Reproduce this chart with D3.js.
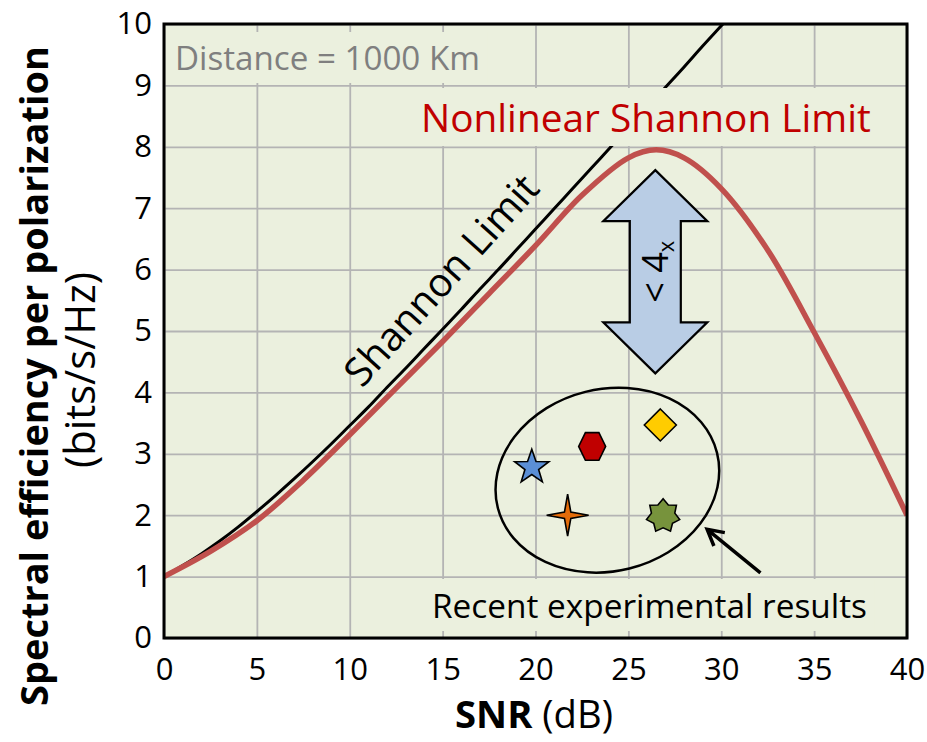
<!DOCTYPE html>
<html lang="en">
<head>
<meta charset="utf-8">
<title>Nonlinear Shannon Limit</title>
<script src="https://d3js.org/d3.v7.min.js"></script>
<style>
body { margin: 0; background: #fff; }
svg text { font-family: "Open Sans", sans-serif; }
</style>
</head>
<body>
<script>
// tick labels
const snrTicks = [0, 5, 10, 15, 20, 25, 30, 35, 40];
const seTicks = [0, 1, 2, 3, 4, 5, 6, 7, 8, 9, 10];

// Shannon limit
const shannonSNR = [0, 1, 2, 3, 4, 5, 6, 7, 8, 9, 10, 11, 12, 13, 14, 15, 16, 17, 18, 19, 20,
                    21, 22, 23, 24, 25, 26, 27, 28, 29, 30, 31];
const shannonSE = [1.00, 1.18, 1.37, 1.58, 1.81, 2.06, 2.32, 2.59, 2.87, 3.16, 3.46, 3.76, 4.08,
                   4.39, 4.71, 5.03, 5.35, 5.68, 6.00, 6.33, 6.66, 6.99, 7.32, 7.65, 7.98, 8.31,
                   8.64, 8.97, 9.30, 9.64, 9.97, 10.30];

// nonlinear Shannon limit (red curve)
const nlSNR = [0, 2.5, 5, 7.5, 10, 12.5, 15, 17.5, 20, 22.5, 25, 26.5, 28, 30, 32.5, 35, 37.5, 40];
const nlSE = [1.00, 1.41, 1.91, 2.57, 3.31, 4.07, 4.83, 5.61, 6.39, 7.21, 7.82, 7.95, 7.82, 7.32,
              6.32, 4.98, 3.55, 2.00];

// recent experimental results
const expSNR = [19.8, 23.05, 26.72, 21.73, 26.87];
const expSE = [2.78, 3.12, 3.47, 2.00, 1.99];
const expShape = ["star5", "hexagon", "diamond", "star4", "star7"];
const expColor = ["#5b8fd6", "#c00000", "#ffcc00", "#e46c0a", "#77933c"];

const W = 927, H = 742;
const pL = 164, pR = 907, pT = 24, pB = 638;

const svg = d3.select("body").append("svg")
    .attr("width", W)
    .attr("height", H);

const x = d3.scaleLinear().domain([0, 40]).range([pL, pR]);
const y = d3.scaleLinear().domain([0, 10]).range([pB, pT]);

// plot background
svg.append("rect")
    .attr("x", pL).attr("y", pT)
    .attr("width", pR - pL).attr("height", pB - pT)
    .attr("fill", "#ebf0de");

svg.append("clipPath").attr("id", "clip")
  .append("rect")
    .attr("x", pL).attr("y", pT)
    .attr("width", pR - pL).attr("height", pB - pT);

// grid lines
svg.append("g")
    .attr("transform", `translate(0,${pB})`)
    .call(d3.axisBottom(x).tickValues(snrTicks).tickSize(-(pB - pT)).tickFormat(""))
    .call(g => g.select(".domain").remove())
    .call(g => g.selectAll("line").attr("stroke", "#b4b4b4").attr("stroke-width", 1.8));

svg.append("g")
    .attr("transform", `translate(${pL},0)`)
    .call(d3.axisLeft(y).tickValues(seTicks).tickSize(-(pR - pL)).tickFormat(""))
    .call(g => g.select(".domain").remove())
    .call(g => g.selectAll("line").attr("stroke", "#b4b4b4").attr("stroke-width", 1.8));

// Shannon limit
const line = d3.line().x(d => x(d[0])).y(d => y(d[1])).curve(d3.curveCatmullRom.alpha(0.5));

svg.append("path")
    .datum(d3.zip(shannonSNR, shannonSE))
    .attr("clip-path", "url(#clip)")
    .attr("d", line)
    .attr("fill", "none")
    .attr("stroke", "#000")
    .attr("stroke-width", 3);

function fit(t, w) {
  const l = t.node().getComputedTextLength();
  const fs = parseFloat(t.attr("font-size"));
  t.attr("font-size", fs * w / l);
}

// text with a box in the plot colour behind it
function boxedText(txt, x0, base, w, size, color) {
  const g = svg.append("g");
  const r = g.append("rect").attr("fill", "#ebf0de");
  const t = g.append("text")
      .attr("x", x0).attr("y", base)
      .attr("font-size", size)
      .attr("fill", color)
      .text(txt);
  fit(t, w);
  const b = t.node().getBBox();
  r.attr("x", b.x - 8).attr("y", b.y - 3).attr("width", b.width + 16).attr("height", b.height + 6);
  return t;
}

boxedText("Distance = 1000 Km", 175, 70, 305, 30, "#7f7f7f");
boxedText("Nonlinear Shannon Limit", 421, 132, 450, 34, "#c00000");
boxedText("Recent experimental results", 432, 618, 435, 30, "#000");

// nonlinear Shannon limit
svg.append("path")
    .datum(d3.zip(nlSNR, nlSE))
    .attr("clip-path", "url(#clip)")
    .attr("d", line)
    .attr("fill", "none")
    .attr("stroke", "#c0504d")
    .attr("stroke-width", 5.5);

// "Shannon Limit" label along the black curve
const sl = svg.append("text")
    .attr("transform", "translate(362,389) rotate(-48)")
    .attr("font-size", 30)
    .text("Shannon Limit");
fit(sl, 268);

// double arrow (< 4x)
const ax = x(26.45), aTop = y(7.62), aBot = y(4.31);
const head = 51, wing = 52, shaft = 25.5;
const arrowPts = [
  [ax, aTop], [ax + wing, aTop + head], [ax + shaft, aTop + head], [ax + shaft, aBot - head],
  [ax + wing, aBot - head], [ax, aBot], [ax - wing, aBot - head], [ax - shaft, aBot - head],
  [ax - shaft, aTop + head], [ax - wing, aTop + head]
];
svg.append("path")
    .attr("d", d3.line().curve(d3.curveLinearClosed)(arrowPts))
    .attr("fill", "#b9cde5")
    .attr("stroke", "#000")
    .attr("stroke-width", 2.2)
    .attr("stroke-linejoin", "miter");

const ft = svg.append("text")
    .attr("transform", `translate(${ax + 13},${(aTop + aBot) / 2}) rotate(-90)`)
    .attr("text-anchor", "middle")
    .attr("font-size", 36);
ft.append("tspan").text("< 4");
ft.append("tspan").attr("font-size", 22).attr("dy", 6).text("x");

// ellipse around the experimental results
const ex = x(23.87), ey = y(2.57);
svg.append("ellipse")
    .attr("transform", `translate(${ex},${ey}) rotate(-14)`)
    .attr("rx", 113)
    .attr("ry", 91)
    .attr("fill", "none")
    .attr("stroke", "#000")
    .attr("stroke-width", 2.5);

// pointer arrow
const tail = [x(32.11), y(1.06)], tip = [x(29.24), y(1.77)];
const ang = Math.atan2(tail[1] - tip[1], tail[0] - tip[0]);
const hl = 18;
svg.append("path")
    .attr("d", d3.line()([tail, tip]) + d3.line()([
      [tip[0] + hl * Math.cos(ang - 0.5), tip[1] + hl * Math.sin(ang - 0.5)],
      tip,
      [tip[0] + hl * Math.cos(ang + 0.5), tip[1] + hl * Math.sin(ang + 0.5)]
    ]))
    .attr("fill", "none")
    .attr("stroke", "#000")
    .attr("stroke-width", 3.5)
    .attr("stroke-linejoin", "miter");

// markers
function starPath(n, rOut, rIn, rot) {
  const pts = d3.range(2 * n).map(i => [rot + i * Math.PI / n, i % 2 ? rIn : rOut]);
  return d3.lineRadial().curve(d3.curveLinearClosed)(pts);
}
const shapes = {
  star5: starPath(5, 18, 7.2, 0),
  hexagon: starPath(3, 13.5, 13.5, Math.PI / 2),
  diamond: starPath(2, 16, 16, 0),
  star4: starPath(4, 21, 4.5, 0),
  star7: starPath(7, 17, 12, 0)
};
svg.selectAll("path.exp")
  .data(d3.range(expSNR.length))
  .join("path")
    .attr("class", "exp")
    .attr("transform", i => `translate(${x(expSNR[i])},${y(expSE[i])})` + (expShape[i] === "hexagon" ? " scale(1,1.18)" : ""))
    .attr("d", i => shapes[expShape[i]])
    .attr("fill", i => expColor[i])
    .attr("stroke", "#000")
    .attr("stroke-width", 1.6)
    .attr("vector-effect", "non-scaling-stroke");

// frame
svg.append("rect")
    .attr("x", pL).attr("y", pT)
    .attr("width", pR - pL).attr("height", pB - pT)
    .attr("fill", "none")
    .attr("stroke", "#000")
    .attr("stroke-width", 3);

// tick labels
svg.append("g")
    .attr("transform", `translate(0,${pB})`)
    .call(d3.axisBottom(x).tickValues(snrTicks).tickSize(0).tickPadding(20))
    .call(g => g.select(".domain").remove())
    .call(g => g.selectAll("text").attr("font-size", 31).attr("font-family", "Open Sans").attr("fill", "#000"));

svg.append("g")
    .attr("transform", `translate(${pL},0)`)
    .call(d3.axisLeft(y).tickValues(seTicks).tickSize(0).tickPadding(12))
    .call(g => g.select(".domain").remove())
    .call(g => g.selectAll("text").attr("font-size", 31).attr("font-family", "Open Sans").attr("fill", "#000"));

// axis titles
const xt = svg.append("text")
    .attr("x", 455).attr("y", 728)
    .attr("font-size", 32);
xt.append("tspan").attr("font-weight", "bold").text("SNR");
xt.append("tspan").text(" (dB)");
fit(xt, 158);

const yt1 = svg.append("text")
    .attr("transform", "translate(48,376) rotate(-90)")
    .attr("text-anchor", "middle")
    .attr("font-weight", "bold")
    .attr("font-size", 32)
    .text("Spectral efficiency per polarization");
fit(yt1, 660);

const yt2 = svg.append("text")
    .attr("transform", "translate(95,370) rotate(-90)")
    .attr("text-anchor", "middle")
    .attr("font-size", 30)
    .text("(bits/s/Hz)");
fit(yt2, 196);
</script>
</body>
</html>
